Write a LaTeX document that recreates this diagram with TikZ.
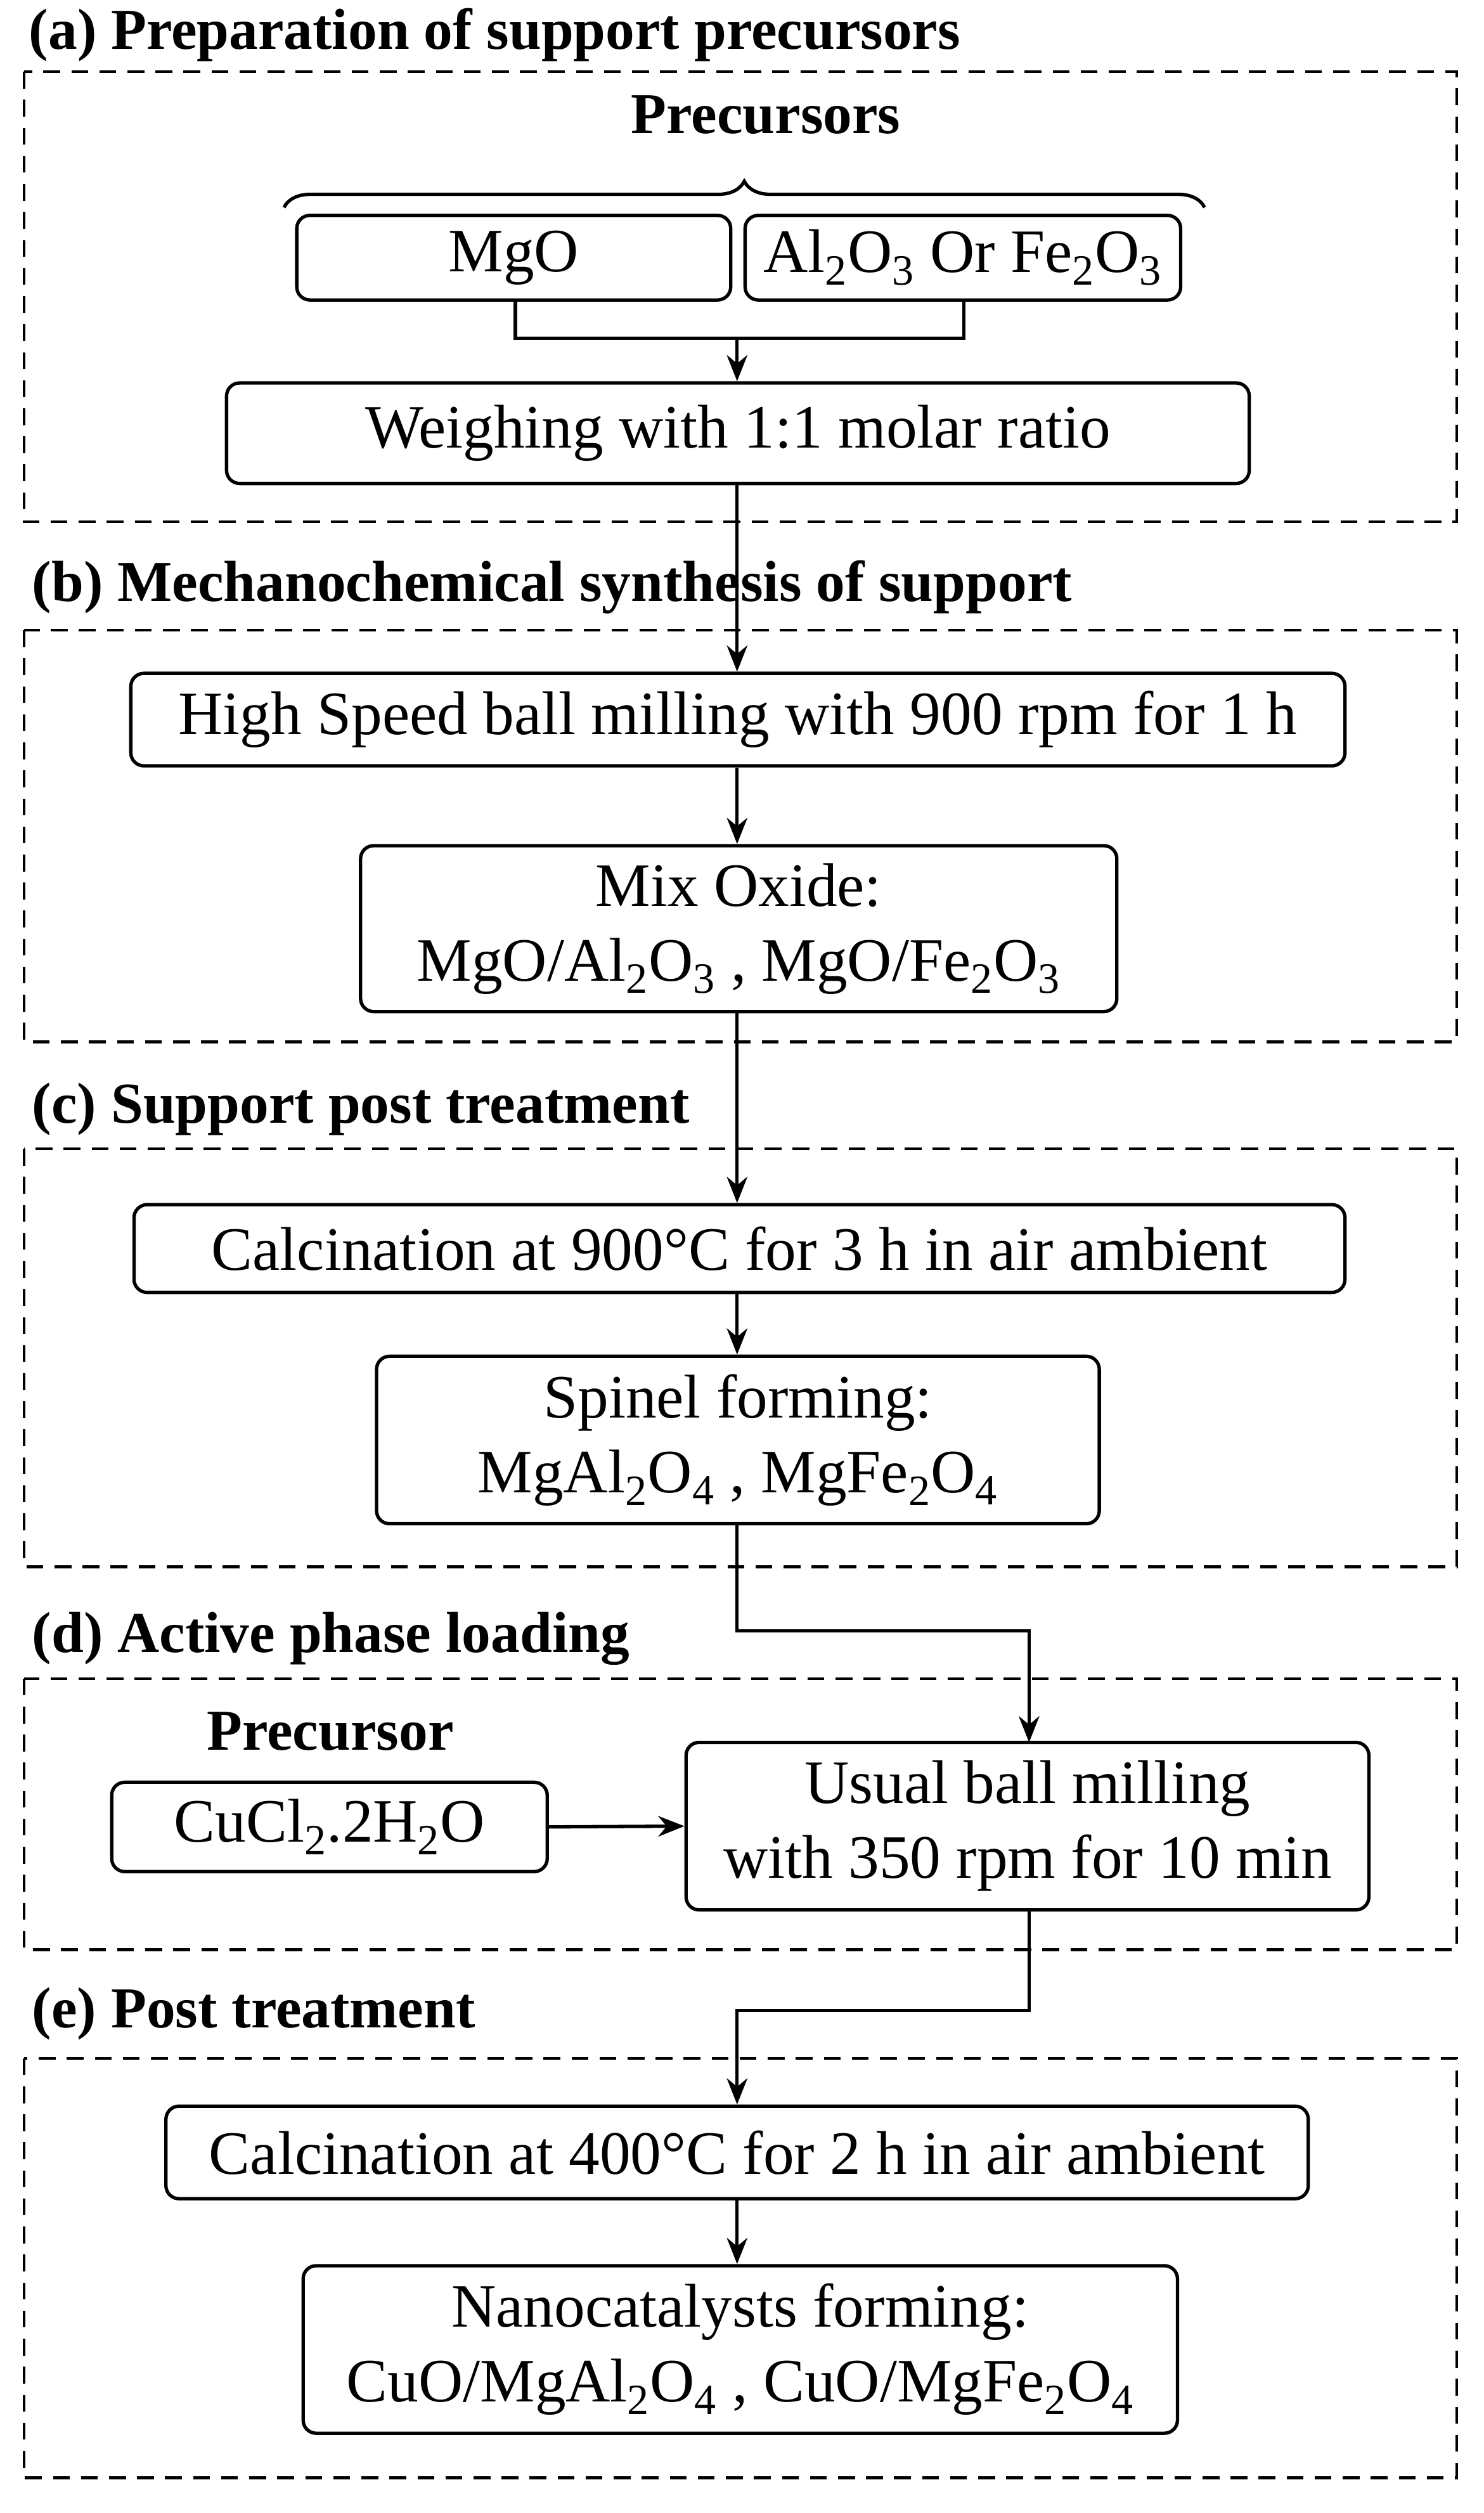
\documentclass[tikz,border=0pt]{standalone}
\usepackage{fontspec}
\setmainfont{Liberation Serif}
\usetikzlibrary{decorations.pathreplacing,arrows.meta}
\newcommand{\sbs}[1]{\textsubscript{#1}}
\begin{document}
\begin{tikzpicture}[x=0.03cm,y=-0.03cm,
 box/.style={draw,line width=1.8pt,rounded corners=7pt,align=center,inner sep=0pt,font=\fontsize{33}{40}\selectfont},
 frame/.style={draw,line width=1.5pt,dash pattern=on 9pt off 6pt},
 ttl/.style={anchor=west,font=\fontsize{31}{36}\selectfont\bfseries,inner sep=0pt},
 arr/.style={line width=1.8pt,-{Stealth[length=14pt,width=11pt]}},
 ln/.style={line width=1.8pt}]
\useasboundingbox (0,0) rectangle (930,1575);
\newcommand{\bx}[6]{\node[box,minimum width={(#3-#2)*0.03cm},minimum height={(#5-#4)*0.03cm}] (#1) at ({(#2+#3)/2},{(#4+#5)/2}) {#6};}
% frames
\draw[frame] (15,45) rectangle (913,327);
\draw[frame] (15,395) rectangle (913,653);
\draw[frame] (15,720) rectangle (913,982);
\draw[frame] (15,1052) rectangle (913,1222);
\draw[frame] (15,1290) rectangle (913,1553);
% titles
\node[ttl] (ta) at (18,22) {(a) Preparation of support precursors};
\node[ttl] (tb) at (20,368) {(b) Mechanochemical synthesis of support};
\node[ttl] (tc) at (20,695) {(c) Support post treatment};
\node[ttl] (td) at (20,1027) {(d) Active phase loading};
\node[ttl] (te) at (20,1262) {(e) Post treatment};
\node[font=\fontsize{31}{36}\selectfont\bfseries,inner sep=0pt] (pre) at (480,72) {Precursors};
\node[font=\fontsize{31}{36}\selectfont\bfseries,inner sep=0pt] (pre2) at (207,1085) {Precursor};
\draw[ln,decorate,decoration={brace,amplitude=14pt}] (178,130) -- (755,130);
% boxes
\bx{mgo}{186}{458}{135}{188}{MgO}
\bx{al}{467}{740}{135}{188}{Al\sbs{2}O\sbs{3} Or Fe\sbs{2}O\sbs{3}}
\bx{wei}{142}{783}{240}{303}{Weighing with 1:1 molar ratio}
\bx{hs}{82}{843}{422}{480}{High Speed ball milling with 900 rpm for 1 h}
\bx{mix}{226}{700}{530}{634}{Mix Oxide:\\MgO/Al\sbs{2}O\sbs{3} , MgO/Fe\sbs{2}O\sbs{3}}
\bx{cal}{84}{843}{755}{810}{Calcination at 900°C for 3 h in air ambient}
\bx{sp}{236}{689}{850}{955}{Spinel forming:\\MgAl\sbs{2}O\sbs{4} , MgFe\sbs{2}O\sbs{4}}
\bx{cu}{70}{343}{1117}{1173}{CuCl\sbs{2}.2H\sbs{2}O}
\bx{us}{430}{858}{1092}{1197}{Usual ball milling\\with 350 rpm for 10 min}
\bx{cal2}{104}{820}{1320}{1378}{Calcination at 400°C for 2 h in air ambient}
\bx{nano}{190}{738}{1420}{1525}{Nanocatalysts forming:\\CuO/MgAl\sbs{2}O\sbs{4} , CuO/MgFe\sbs{2}O\sbs{4}}
% connectors
\coordinate (j) at (462,212);
\draw[ln] (323,188) |- (j) -| (604,188);
\draw[arr] (j) -- (j|-wei.north);
\draw[arr] (j|-wei.south) -- (j|-hs.north);
\draw[arr] (j|-hs.south) -- (j|-mix.north);
\draw[arr] (j|-mix.south) -- (j|-cal.north);
\draw[arr] (j|-cal.south) -- (j|-sp.north);
\draw[arr] (j|-sp.south) -- (462,1022) -- (645,1022) -- (645,1092);
\draw[arr] (cu.east) -- (us.west);
\draw[arr] (645,1197) -- (645,1260) -- (462,1260) -- (j|-cal2.north);
\draw[arr] (j|-cal2.south) -- (j|-nano.north);
\end{tikzpicture}
\end{document}
